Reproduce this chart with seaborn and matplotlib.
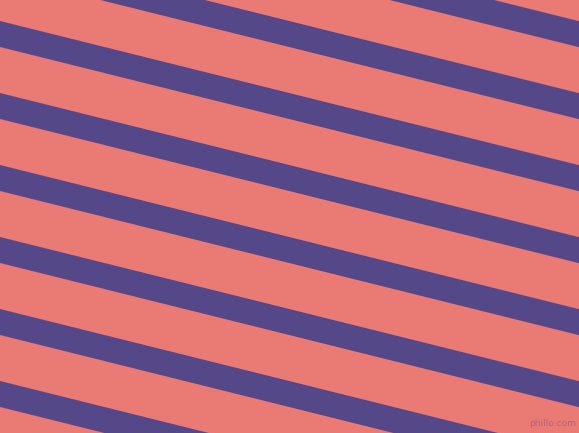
import numpy as np
import matplotlib
matplotlib.use("Agg")
import matplotlib.pyplot as plt
import seaborn as sns

# stripe geometry in pixel units
stripe_offsets = [-123, -51, 21, 93, 165, 237, 309, 381, 453]  # top edge y at x=0
stripe_slope = 0.249
stripe_width = 26
background = "#EA7A74"
stripe_color = "#544888"

sns.set_theme(style="white")

fig = plt.figure(figsize=(5.79, 4.33), dpi=100)
ax = fig.add_axes([0, 0, 1, 1])
ax.set_facecolor(background)

x = np.array([0, 579])
for off in stripe_offsets:
    top = off + stripe_slope * x
    sns.lineplot(x=x, y=top, ax=ax, color=stripe_color, linewidth=0)
    ax.fill_between(x, top, top + stripe_width, color=stripe_color, linewidth=0)

ax.set_xlim(0, 579)
ax.set_ylim(433, 0)
ax.axis("off")
fig.patch.set_facecolor(background)

ax.text(576, 424, "phillo.com", ha="right", va="center", fontsize=6.5,
        color="#9A5F8A", alpha=0.8)

plt.savefig("out.png", dpi=100, facecolor=background)
